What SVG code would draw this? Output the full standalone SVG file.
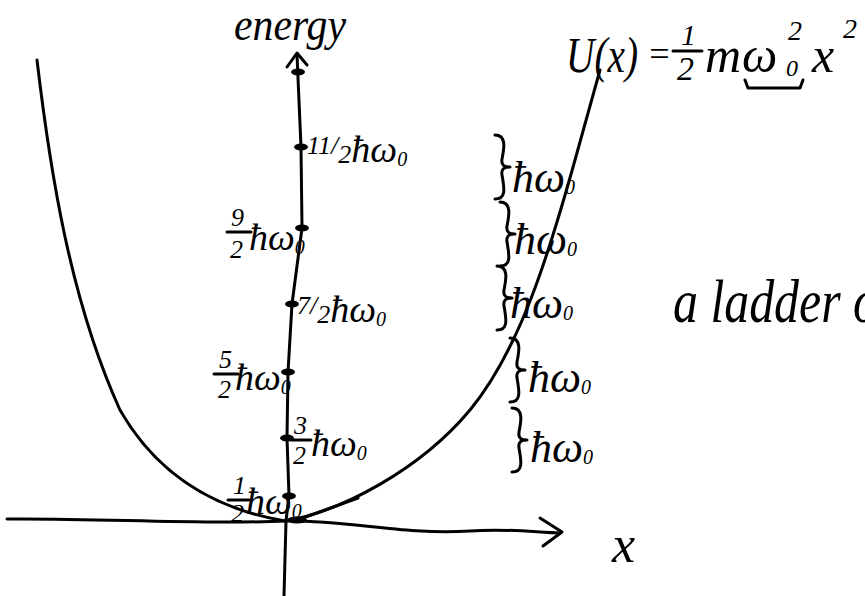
<svg xmlns="http://www.w3.org/2000/svg" width="865" height="596" viewBox="0 0 865 596">
<style>
.s{fill:none;stroke:#000;stroke-width:3;stroke-linecap:round;stroke-linejoin:round}
.t{font-family:"Liberation Serif",serif;font-style:italic;fill:#000}
.h{font-size:38px}
.sub{font-size:20px}
.fr{font-size:26px}
.bl{font-size:44px}
</style>
<defs>
<path id="brace" d="M0,0 C12,0 9,14 7,24 C6,30 9,32 15,32 C9,32 6,34 7,40 C9,52 12,64 0,64" class="s"/>
<ellipse id="tick" rx="7" ry="3.5" fill="#000"/>
</defs>
<rect width="865" height="596" fill="#fff"/>
<g id="curve">
<path class="s" d="M37,60 C50,170 70,300 120,410 C160,480 220,510 285,521"/>
<path class="s" d="M285,521 C340,512 420,470 470,410 C520,350 550,250 575,160 L600,70"/>
<path class="s" d="M300,519 L358,498"/>
<ellipse cx="297" cy="520" rx="10" ry="3.5" fill="#000"/>
</g>
<g id="axes">
<path class="s" d="M7,519 C100,518 200,525 286,521 C350,520 400,535 470,531 C510,528 540,533 560,533"/>
<path class="s" d="M540,518 L562,532 L543,546"/>
<path class="s" d="M297,55 L301,147 L302,228 L292,304 L288,372 L287,438 L289,496 L286,521 L284,596"/>
<path class="s" d="M287,67 L297,53 L307,65"/>
<text class="t" x="234" y="40" font-size="46" textLength="112" lengthAdjust="spacingAndGlyphs">energy</text>
<text class="t" x="612" y="562" font-size="52">x</text>
</g>
<g id="ticks">
<use href="#tick" x="298" y="72"/>
<use href="#tick" x="301" y="147"/>
<use href="#tick" x="302" y="228"/>
<use href="#tick" x="292" y="304"/>
<use href="#tick" x="288" y="372"/>
<use href="#tick" x="287" y="438"/>
<use href="#tick" x="289" y="496"/>
</g>
<g id="levels">
<text class="t h" x="307" y="162"><tspan class="fr" dy="-8">11</tspan><tspan class="fr" dy="0">/</tspan><tspan class="fr" dy="9">2</tspan><tspan dy="-1">ħω</tspan><tspan class="sub" dy="4">0</tspan></text>
<g id="l92">
<text class="t fr" x="231" y="226">9</text>
<path class="s" d="M227,232 L251,232" stroke-width="2"/>
<text class="t fr" x="230" y="258">2</text>
<text class="t h" x="249" y="250">ħω<tspan class="sub" dy="4">0</tspan></text>
</g>
<text class="t h" x="297" y="322"><tspan class="fr" dy="-8">7</tspan><tspan class="fr">/</tspan><tspan class="fr" dy="9">2</tspan><tspan dy="-1">ħω</tspan><tspan class="sub" dy="4">0</tspan></text>
<g id="l52">
<text class="t fr" x="219" y="368">5</text>
<path class="s" d="M214,374 L238,374" stroke-width="2"/>
<text class="t fr" x="218" y="398">2</text>
<text class="t h" x="235" y="390">ħω<tspan class="sub" dy="4">0</tspan></text>
</g>
<g id="l32">
<text class="t fr" x="294" y="434">3</text>
<path class="s" d="M291,440 L311,440" stroke-width="2"/>
<text class="t fr" x="293" y="464">2</text>
<text class="t h" x="311" y="456">ħω<tspan class="sub" dy="4">0</tspan></text>
</g>
<g id="l12">
<text class="t fr" x="233" y="494">1</text>
<path class="s" d="M228,500 L249,500" stroke-width="2"/>
<text class="t fr" x="231" y="522">2</text>
<text class="t h" x="246" y="514" font-size="32">ħω<tspan class="sub" dy="4">0</tspan></text>
</g>
</g>
<g id="spacings">
<use href="#brace" x="495" y="135"/>
<text class="t bl" x="512" y="192">ħω<tspan class="sub" dy="2">0</tspan></text>
<use href="#brace" x="500" y="202"/>
<text class="t bl" x="514" y="254">ħω<tspan class="sub" dy="2">0</tspan></text>
<use href="#brace" x="497" y="266"/>
<text class="t bl" x="510" y="318">ħω<tspan class="sub" dy="2">0</tspan></text>
<use href="#brace" x="510" y="338"/>
<text class="t bl" x="528" y="392">ħω<tspan class="sub" dy="2">0</tspan></text>
<use href="#brace" x="512" y="408"/>
<text class="t bl" x="530" y="462">ħω<tspan class="sub" dy="2">0</tspan></text>
</g>
<g id="formula">
<text class="t" x="566" y="72" font-size="50" textLength="72" lengthAdjust="spacingAndGlyphs">U(x)</text>
<text class="t" x="647" y="66" font-size="36">=</text>
<text class="t" x="681" y="45" font-size="30">1</text>
<path class="s" d="M673,51 L702,51" stroke-width="2.5"/>
<text class="t" x="677" y="80" font-size="34">2</text>
<text class="t" x="705" y="72" font-size="50">m</text>
<text class="t" x="742" y="72" font-size="50">ω</text>
<text class="t" x="788" y="40" font-size="28">2</text>
<text class="t" x="786" y="76" font-size="24">0</text>
<path class="s" d="M745,80 L748,88 L800,88 L803,80" stroke-width="2.5"/>
<text class="t" x="812" y="72" font-size="50">x</text>
<text class="t" x="843" y="38" font-size="28">2</text>
</g>
<text class="t" x="673" y="322" font-size="62" textLength="205" lengthAdjust="spacingAndGlyphs">a ladder o</text>
</svg>
